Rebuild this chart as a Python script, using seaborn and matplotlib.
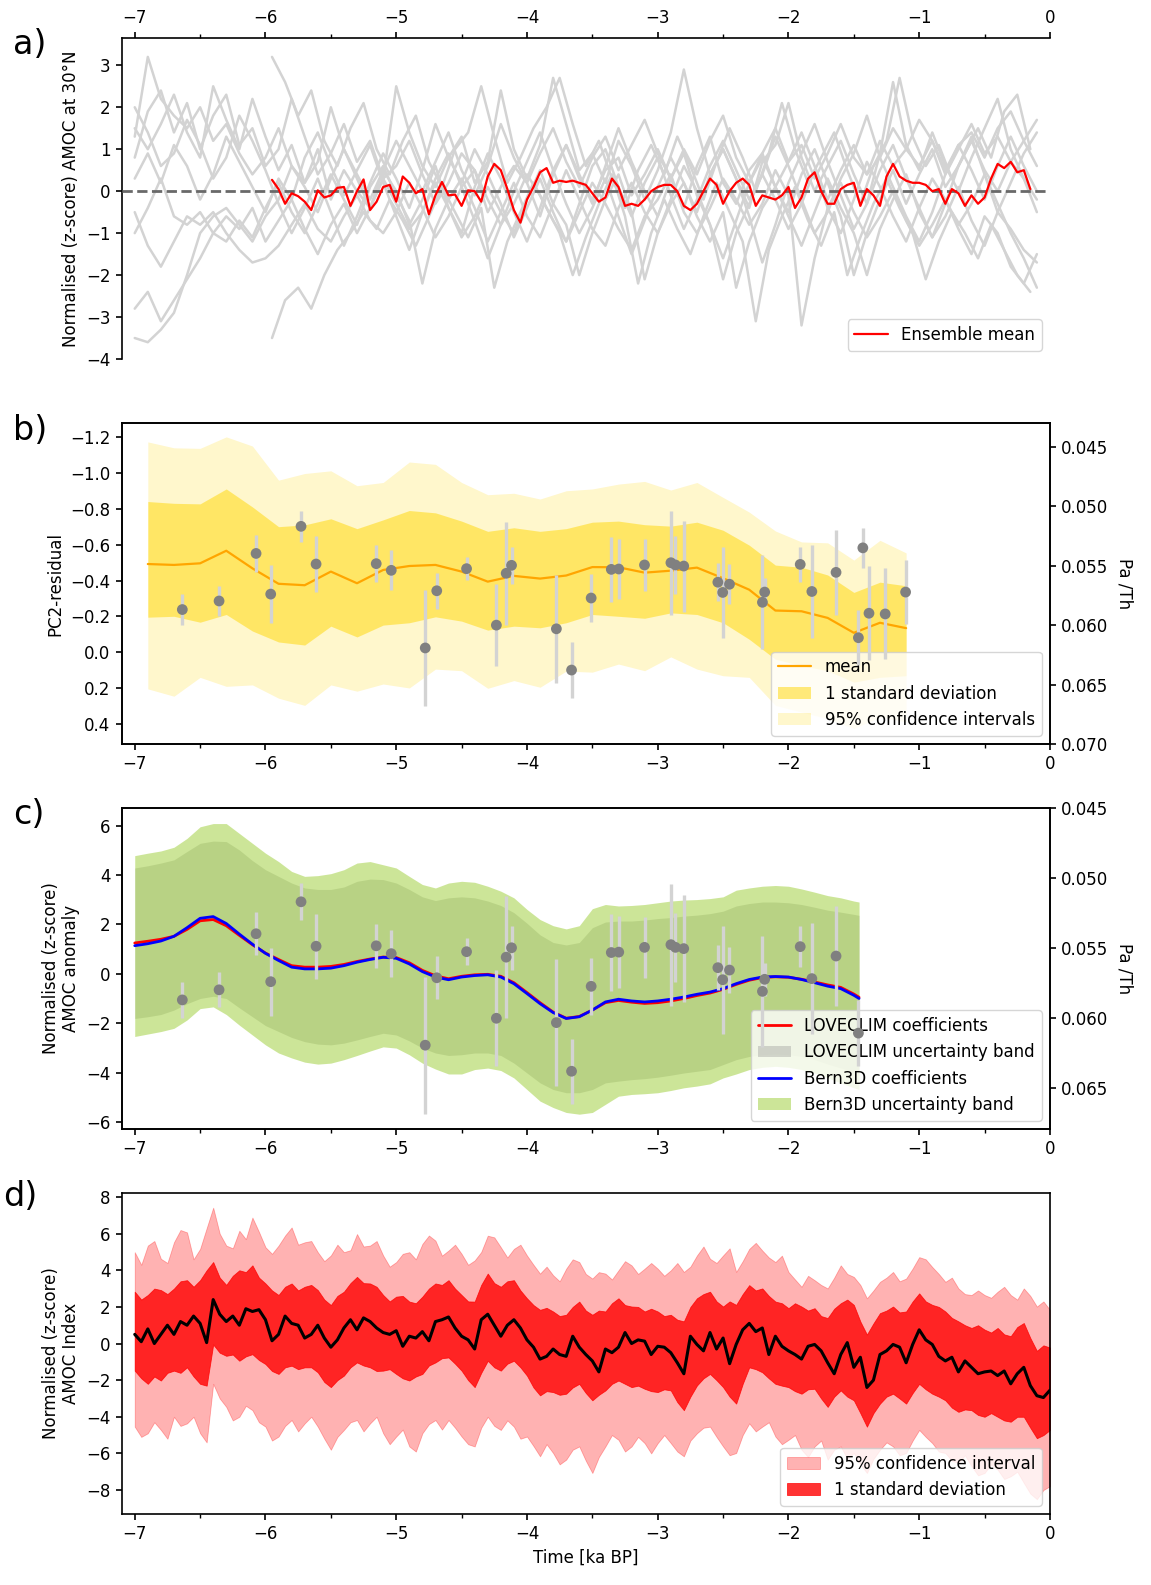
"""
plot.py
Four-panel AMOC reconstruction figure: a) model ensemble, b) PC2-residual with Pa/Th,
c) AMOC anomaly from LOVECLIM/Bern3D coefficients, d) AMOC index with uncertainty.
"""

import numpy as np
import pandas as pd
import matplotlib
matplotlib.use("Agg")
import matplotlib.pyplot as plt
from matplotlib.ticker import MultipleLocator
from matplotlib.lines import Line2D
from matplotlib.patches import Patch
import seaborn as sns

# ---------------- panel a: ensemble members (0.1 ka steps) ----------------
ENS_FULL = [  # -7.0 ... -0.1
    [1.3, 3.2, 2.2, 1.8, 1.5, 2.0, 1.2, 1.6, 0.9, 0.4,
     0.8, 1.5, 0.6, 0.2, 1.0, -0.2, 0.5, 0.0, -0.4, 0.3,
     0.6, 1.2, 0.4, -0.3, 0.2, 0.9, 0.5, -0.5, 0.1, 0.6,
     0.2, -0.6, 0.4, 1.1, 0.3, -0.2, 0.5, 0.8, -0.1, 0.4,
     1.0, 0.3, -0.4, 0.6, 1.3, 0.2, -0.3, 0.5, 0.9, 0.1,
     0.7, 1.4, 0.6, -0.2, 0.5, 1.1, 0.4, 0.8, 1.5, 1.0,
     0.6, 1.2, 0.4, 1.0, 1.6, 0.9, 1.3, 0.7, 1.2, 1.7],
    [0.8, 1.9, 2.4, 1.4, 2.1, 1.0, 1.8, 2.3, 1.1, 1.5,
     0.6, 1.0, 2.2, 1.3, 0.4, 0.9, 1.6, 0.7, 1.2, 0.3,
     2.5, 1.4, 0.6, 0.1, 0.8, 1.3, 0.2, 0.7, 2.4, 1.0,
     0.3, 1.1, 2.7, 1.6, 0.5, 0.9, 0.2, 1.2, 0.6, -0.2,
     0.5, 1.4, 2.9, 1.5, 0.4, 1.0, 0.3, -0.4, 0.7, 1.1,
     2.1, 0.8, 0.0, 0.6, 1.2, 0.4, -0.3, 0.9, 2.6, 1.1,
     0.5, 1.4, 0.6, 0.0, 0.8, 1.5, 2.2, 1.0, 0.3, -0.5],
    [-0.5, -1.3, -1.8, -1.2, -0.6, -0.8, -0.5, -1.0, -1.4, -1.7,
     -1.6, -1.3, -0.8, -0.3, -0.9, -1.2, -0.6, -0.1, -0.7, -1.0,
     -0.5, 0.2, -0.4, -1.1, -0.6, 0.1, 0.5, -0.2, -0.8, -0.3,
     0.4, -0.1, -0.7, -1.2, -0.5, 0.2, -0.3, -0.9, -1.4, -0.6,
     -0.2, 0.4, -0.5, -1.0, -0.4, 0.3, -0.2, -0.8, -0.3, 0.5,
     -0.1, -3.2, -1.6, -0.4, 0.2, -0.5, -1.1, -0.6, 0.0, -0.7,
     -1.3, -0.8, -0.2, -0.9, -1.5, -0.6, -1.0, -1.8, -2.2, -1.5],
    [-1.0, -0.4, 0.3, -0.6, -0.8, -0.5, -1.0, -1.2, -0.7, -1.1,
     -0.4, 0.2, -0.5, -1.0, -0.3, 0.4, -0.2, -0.8, 0.1, 0.6,
     -0.1, -0.7, -2.2, -0.9, -0.2, 0.3, -0.4, -1.2, -0.5, 0.2,
     -0.6, -1.1, -0.3, 0.5, -0.2, -0.9, -1.3, -0.4, 0.2, -0.5,
     -1.0, -0.2, 0.6, 0.0, -0.8, -2.1, -1.0, -0.3, 0.4, -0.2,
     -0.9, -0.3, 0.5, -0.4, -1.0, -0.2, 0.7, 0.1, -0.6, -1.2,
     -0.4, 0.3, -0.2, -0.8, -0.3, 0.4, -0.3, -1.0, -1.6, -2.3],
    [-2.8, -2.4, -3.1, -2.6, -2.1, -1.6, -1.0, -0.6, -0.9, -0.4,
     -1.2, -0.7, -0.2, -0.9, -1.5, -0.8, -0.3, -1.0, -0.4, 0.3,
     -0.3, -0.9, -0.5, 0.2, -0.4, -1.1, -0.6, 0.1, -0.5, -1.0,
     -0.2, 0.5, -0.3, -0.8, -2.0, -1.0, -0.2, 0.4, -0.5, -2.1,
     -1.0, -0.3, 0.2, -0.6, -1.2, -0.5, -2.3, -1.2, -0.4, 0.1,
     -0.6, -1.3, -0.5, 0.3, -0.4, -1.0, -2.0, -0.9, -0.2, 0.4,
     -0.5, -1.1, -0.6, 0.1, -0.7, -1.3, -0.5, -0.9, -1.4, -1.7],
    [-3.5, -3.6, -3.3, -2.9, -2.0, -1.0, -0.6, -0.4, -0.8, -1.2,
     -0.6, -0.2, 0.6, 0.1, -0.5, 0.3, 1.0, 0.4, -0.2, 0.5,
     1.2, 0.6, 0.0, 0.7, 1.4, 0.5, -0.1, 0.6, 1.6, 0.8,
     0.2, 0.9, 1.5, 0.7, 0.1, 0.8, 1.3, 0.5, 1.1, 1.7,
     0.9, 0.3, 1.0, 0.4, 1.2, 1.8, 0.8, 0.2, 0.9, 1.5,
     0.7, 1.1, 0.3, 0.9, 1.6, 0.8, 0.4, 1.2, 0.6, 1.0,
     1.7, 1.2, 0.5, 1.1, 1.4, 0.8, 1.5, 1.9, 1.2, 0.6],
    [1.5, 1.0, 1.6, 2.3, 1.4, 0.8, 2.5, 1.7, 1.0, 2.2,
     1.3, 0.5, 1.1, 0.2, 0.7, 2.0, 1.0, 0.3, -0.4, 0.5,
     0.0, -0.8, -0.2, 0.6, -0.4, -1.0, 0.1, 0.9, 0.3, -0.5,
     -1.2, -0.4, 0.5, 1.1, 0.4, -0.3, 0.6, 1.5, 0.7, 0.0,
     -0.6, 0.3, 0.9, -0.1, -0.8, -1.6, -0.7, 0.2, 0.8, 0.1,
     -0.5, 0.4, 1.0, 0.2, -0.6, -2.0, -1.0, -0.2, 0.5, -0.3,
     0.4, 1.0, 0.1, 0.6, 1.2, 0.5, 0.0, 0.7, 0.3, -0.2],
    [0.3, 0.9, 0.2, 1.1, 0.6, -0.2, 0.4, 1.3, 0.7, 0.1,
     -0.5, 0.3, -0.2, 0.8, 1.4, 0.6, -0.1, 0.5, 1.1, 0.2,
     -0.6, -1.4, -0.5, 0.3, 0.9, 0.1, -0.7, -1.6, -0.8, 0.0,
     0.7, 1.4, 0.5, -0.3, -1.0, -0.4, 0.3, -0.6, -1.5, -0.7,
     0.1, 0.8, 0.2, -0.5, 0.4, 1.0, 0.3, -0.6, -1.7, -0.8,
     0.2, 0.9, 1.6, 0.7, -0.1, -0.9, -0.3, 0.5, 1.1, 0.3,
     -0.4, -1.1, -0.3, 0.6, 1.3, 0.4, -0.5, 0.2, 0.9, 1.4],
    [2.0, 1.4, 0.6, 0.9, 1.7, 1.1, 0.3, 0.8, 1.8, 1.2,
     0.5, -0.3, -1.0, -0.4, 0.3, -0.5, -1.3, -0.6, 0.2, 0.9,
     0.3, -0.4, 0.5, 1.6, 0.8, 0.2, 1.0, 0.4, -0.3, -1.1,
     -0.4, 0.3, -0.5, -1.2, -0.3, 0.6, 1.0, 0.1, -0.6, 0.2,
     0.8, -0.1, -0.9, -0.2, 0.6, 1.2, 0.5, -0.2, 0.4, 1.3,
     0.6, -0.2, -1.0, -0.5, 0.3, 0.9, 1.8, 0.8, 0.1, -0.6,
     -1.2, -0.5, 0.4, 1.1, 0.5, -0.2, 0.6, 1.3, 0.6, 0.0],
]
ENS_LATE = [  # -5.95 ... -0.15
    [3.2, 2.6, 1.8, 2.4, 1.2, 0.6, 1.5, 2.1, 1.0, 0.4,
     1.2, 1.8, 0.7, 0.1, 1.0, 1.4, 2.5, 1.3, 0.2, 0.8,
     1.5, 2.0, 2.7, 1.6, 0.6, 1.2, 0.3, -0.4, 0.5, 1.1,
     0.4, 1.3, 0.6, -0.2, 0.7, 1.5, 0.8, 0.0, 0.9, 2.1,
     1.0, 0.2, 0.8, 1.4, 0.5, -0.3, 0.6, 1.2, 2.7, 1.3,
     0.6, 1.1, 0.3, 0.9, 1.5, 0.8, 1.9, 2.3, 1.0],
    [-3.5, -2.6, -2.3, -2.8, -2.0, -1.4, -1.0, -0.5, -0.9, -0.2,
     -0.7, -1.3, -0.6, 0.1, -0.5, -1.1, -0.4, -2.3, -1.2, -0.5,
     0.2, -0.4, -1.0, -2.0, -1.1, -0.3, 0.4, -0.6, -2.2, -1.0,
     -0.2, -0.9, -1.5, -0.6, 0.2, -0.5, -1.2, -3.1, -1.4, -0.6,
     0.1, -0.7, -1.3, -0.5, -2.0, -1.1, -0.3, 0.3, -0.4, -1.0,
     -2.1, -1.2, -0.5, -1.0, -1.6, -0.8, -1.4, -2.0, -2.4],
]
# ensemble mean, 0.05 ka steps from -5.95 to -0.15
ENS_MEAN = [
    0.27, 0.05, -0.30, -0.05, -0.12, -0.25, -0.45, 0.02, -0.15, -0.10,
    0.08, 0.10, -0.35, 0.00, 0.28, -0.45, -0.25, 0.10, 0.15, -0.25,
    0.35, 0.20, -0.05, 0.05, -0.55, -0.10, 0.22, -0.10, -0.08, -0.35,
    0.02, 0.00, -0.25, 0.35, 0.65, 0.50, 0.05, -0.45, -0.75, -0.20,
    0.10, 0.45, 0.55, 0.20, 0.25, 0.22, 0.25, 0.20, 0.15, -0.05,
    -0.25, -0.15, 0.30, 0.10, -0.35, -0.30, -0.35, -0.20, 0.00, 0.10,
    0.15, 0.15, 0.00, -0.35, -0.45, -0.30, 0.00, 0.30, 0.15, -0.30,
    0.00, 0.20, 0.30, 0.15, -0.35, -0.10, -0.15, -0.20, -0.10, 0.10,
    -0.40, -0.15, 0.30, 0.45, 0.00, -0.30, -0.30, 0.05, 0.15, 0.20,
    -0.35, 0.05, -0.10, -0.35, 0.35, 0.65, 0.35, 0.25, 0.20, 0.20,
    0.15, 0.00, 0.05, -0.30, 0.05, -0.05, -0.35, -0.10, -0.30, -0.15,
    0.30, 0.65, 0.55, 0.70, 0.45, 0.50, 0.05,
]

# ---------------- panel b: PC2-residual (0.2 ka steps, -6.9 ... -1.1) ----------------
B_MEAN = [-0.492, -0.487, -0.496, -0.566, -0.468, -0.382, -0.374, -0.45, -0.385, -0.459,
          -0.481, -0.487, -0.45, -0.394, -0.426, -0.411, -0.428, -0.475, -0.474, -0.444,
          -0.455, -0.472, -0.413, -0.349, -0.233, -0.229, -0.192, -0.109, -0.165, -0.135]
B_SD_UP = [-0.84, -0.83, -0.827, -0.91, -0.81, -0.70, -0.71, -0.744, -0.689, -0.738,
           -0.79, -0.777, -0.731, -0.674, -0.694, -0.674, -0.689, -0.725, -0.731, -0.711,
           -0.703, -0.725, -0.68, -0.597, -0.486, -0.474, -0.431, -0.334, -0.391, -0.371]
B_SD_LO = [-0.196, -0.201, -0.168, -0.211, -0.119, -0.058, -0.041, -0.146, -0.086, -0.152,
           -0.165, -0.198, -0.174, -0.124, -0.146, -0.137, -0.165, -0.211, -0.201, -0.19,
           -0.22, -0.211, -0.165, -0.073, 0.038, 0.074, 0.102, 0.166, 0.139, 0.13]
B_CI_UP = [-1.172, -1.139, -1.136, -1.2, -1.149, -0.959, -0.996, -1.011, -0.928, -0.946,
           -1.06, -1.047, -0.946, -0.878, -0.886, -0.854, -0.9, -0.91, -0.937, -0.952,
           -0.904, -0.946, -0.863, -0.781, -0.676, -0.615, -0.61, -0.514, -0.624, -0.554]
B_CI_LO = [0.203, 0.244, 0.139, 0.189, 0.181, 0.255, 0.295, 0.181, 0.216, 0.176,
           0.198, 0.093, 0.102, 0.2, 0.157, 0.194, 0.104, 0.11, 0.065, 0.102,
           0.025, 0.093, 0.13, 0.139, 0.295, 0.332, 0.369, 0.424, 0.36, 0.387]

# Pa/Th measurements (age, value, 1-sigma)
PT_AGE = [-6.636, -6.355, -6.072, -5.96, -5.728, -5.613, -5.153, -5.038, -4.778, -4.69,
          -4.462, -4.234, -4.159, -4.118, -3.775, -3.659, -3.509, -3.355, -3.298, -3.101,
          -2.899, -2.864, -2.801, -2.54, -2.503, -2.451, -2.199, -2.182, -1.91, -1.821,
          -1.636, -1.431, -1.465, -1.384, -1.26, -1.104]
PT_VAL = [0.05869, 0.05797, 0.05397, 0.05739, 0.05169, 0.05486, 0.05483, 0.05539, 0.06192, 0.05711,
          0.05525, 0.06000, 0.05564, 0.05497, 0.06031, 0.06378, 0.05772, 0.05531, 0.05528, 0.05494,
          0.05475, 0.05494, 0.05503, 0.05639, 0.05725, 0.05656, 0.05808, 0.05722, 0.05489, 0.05717,
          0.05556, 0.05350, 0.06106, 0.05900, 0.05906, 0.05722]
PT_ERR = [0.00128, 0.00125, 0.00153, 0.00243, 0.00131, 0.00233, 0.00158, 0.00167, 0.00489, 0.00153,
          0.00097, 0.00344, 0.00433, 0.00158, 0.00453, 0.00233, 0.00203, 0.00275, 0.00255, 0.00217,
          0.00436, 0.00245, 0.00383, 0.00161, 0.00386, 0.00167, 0.00397, 0.00119, 0.00147, 0.00394,
          0.00358, 0.00167, 0.00233, 0.00397, 0.00383, 0.00272]

# ---------------- panel c: AMOC anomaly (0.1 ka steps -7.0 ... -1.5, then -1.46) ----------------
C_LOVECLIM = [1.25, 1.32, 1.4, 1.52, 1.8, 2.15, 2.2, 1.95, 1.56, 1.18,
              0.84, 0.58, 0.33, 0.27, 0.27, 0.3, 0.38, 0.5, 0.6, 0.68,
              0.66, 0.45, 0.14, -0.08, -0.2, -0.1, -0.04, -0.02, -0.1, -0.36,
              -0.76, -1.17, -1.55, -1.8, -1.73, -1.47, -1.17, -1.08, -1.15, -1.2,
              -1.17, -1.1, -1.0, -0.88, -0.78, -0.63, -0.43, -0.26, -0.15, -0.12,
              -0.14, -0.22, -0.33, -0.45, -0.55, -0.82, -0.95]
C_BERN3D = [1.14, 1.22, 1.33, 1.52, 1.87, 2.25, 2.32, 2.04, 1.61, 1.2,
            0.83, 0.54, 0.27, 0.2, 0.2, 0.23, 0.33, 0.47, 0.58, 0.67,
            0.63, 0.4, 0.09, -0.13, -0.24, -0.13, -0.07, -0.04, -0.13, -0.4,
            -0.8, -1.21, -1.57, -1.81, -1.74, -1.47, -1.14, -1.03, -1.1, -1.14,
            -1.1, -1.03, -0.94, -0.83, -0.74, -0.6, -0.4, -0.23, -0.13, -0.11,
            -0.13, -0.23, -0.36, -0.5, -0.6, -0.87, -1.0]
C_B3D_UP = [4.79, 4.89, 4.98, 5.13, 5.49, 5.96, 6.09, 6.09, 5.69, 5.29,
            4.89, 4.55, 4.15, 3.95, 3.98, 4.06, 4.22, 4.49, 4.55, 4.42,
            4.29, 3.95, 3.62, 3.48, 3.68, 3.75, 3.71, 3.55, 3.35, 3.08,
            2.61, 2.2, 1.95, 1.82, 1.95, 2.64, 2.81, 2.75, 2.77, 2.81,
            2.88, 2.95, 2.99, 3.01, 3.05, 3.12, 3.39, 3.48, 3.55, 3.58,
            3.55, 3.44, 3.31, 3.17, 3.08, 2.95, 2.91]
C_B3D_LO = [-2.54, -2.44, -2.34, -2.21, -1.87, -1.41, -1.34, -1.65, -2.08, -2.48,
            -2.88, -3.21, -3.41, -3.58, -3.66, -3.62, -3.48, -3.31, -3.13, -2.96,
            -3.01, -3.28, -3.62, -3.86, -4.06, -4.06, -3.88, -3.82, -3.92, -4.22,
            -4.69, -5.16, -5.42, -5.62, -5.69, -5.62, -5.29, -4.96, -4.89, -4.86,
            -4.82, -4.73, -4.62, -4.55, -4.46, -4.22, -4.06, -3.88, -3.79, -3.75,
            -3.79, -3.88, -4.02, -4.22, -4.42, -4.62, -4.69]
C_LOV_UP = [4.29, 4.38, 4.49, 4.62, 4.96, 5.29, 5.38, 5.36, 5.02, 4.59,
            4.22, 3.95, 3.68, 3.48, 3.42, 3.42, 3.52, 3.75, 3.84, 3.82,
            3.68, 3.42, 3.12, 2.97, 3.08, 3.12, 3.08, 2.95, 2.77, 2.48,
            2.05, 1.58, 1.27, 1.17, 1.27, 1.87, 2.1, 2.14, 2.14, 2.18,
            2.24, 2.28, 2.34, 2.38, 2.44, 2.54, 2.75, 2.85, 2.91, 2.91,
            2.88, 2.81, 2.7, 2.58, 2.5, 2.41, 2.37]
C_LOV_LO = [-1.81, -1.74, -1.65, -1.47, -1.21, -1.0, -0.91, -1.0, -1.38, -1.74,
            -2.1, -2.34, -2.58, -2.75, -2.85, -2.88, -2.81, -2.68, -2.54, -2.41,
            -2.48, -2.72, -3.01, -3.21, -3.31, -3.28, -3.21, -3.21, -3.31, -3.62,
            -4.02, -4.42, -4.69, -4.82, -4.82, -4.69, -4.42, -4.35, -4.29, -4.25,
            -4.19, -4.11, -4.02, -3.95, -3.88, -3.68, -3.48, -3.35, -3.28, -3.25,
            -3.28, -3.35, -3.48, -3.66, -3.82, -3.98, -4.06]

# ---------------- panel d: AMOC index (0.05 ka steps, -7.0 ... 0.0) ----------------
D_INDEX = [
    0.5, 0.1, 0.8, 0.0, 0.5, 1.0, 0.5, 1.2, 1.0, 1.5,
    1.1, 0.05, 2.4, 1.6, 1.2, 1.5, 1.0, 1.9, 1.75, 1.85,
    1.3, 0.15, 0.5, 1.5, 1.1, 1.0, 0.3, 0.5, 1.0, 0.3,
    -0.2, 0.2, 0.85, 1.3, 0.75, 1.4, 1.2, 0.85, 0.6, 0.5,
    0.7, -0.15, 0.4, 0.3, 0.65, 0.15, 1.2, 1.3, 1.45, 0.85,
    0.4, 0.2, -0.3, 1.3, 1.6, 1.0, 0.4, 1.0, 1.3, 0.85,
    0.2, -0.2, -0.85, -0.7, -0.3, -0.6, -0.7, 0.4, -0.2, -0.6,
    -0.95, -1.55, -0.3, -0.5, -0.2, 0.6, 0.0, 0.2, 0.13, -0.6,
    -0.15, -0.2, -0.5, -1.05, -1.65, 0.4, -0.05, -0.4, 0.6, -0.3,
    0.3, -1.1, -0.05, 0.75, 1.1, 0.65, 0.85, -0.6, 0.4, -0.15,
    -0.4, -0.6, -0.85, -0.15, -0.05, -0.4, -1.05, -1.65, -0.6, 0.05,
    -1.3, -0.75, -2.4, -2.0, -0.6, -0.4, -0.05, -0.2, -1.05, -0.05,
    0.75, 0.2, -0.05, -0.7, -0.95, -0.75, -1.55, -0.95, -1.3, -1.65,
    -1.55, -1.5, -1.75, -1.5, -2.2, -1.65, -1.3, -2.3, -2.85, -2.95,
    -2.55,
]
D_SD_UP = [
    2.83, 2.4, 2.65, 3.0, 2.92, 2.7, 3.0, 3.4, 3.46, 3.1, 3.46, 4.0, 4.45, 3.6, 3.2, 3.7, 4.0, 3.9, 4.27, 3.6,
    3.28, 2.9, 2.65, 3.1, 3.28, 2.9, 3.1, 3.2, 2.92, 2.4, 2.1, 2.6, 2.83, 3.3, 3.64, 3.3, 3.28, 3.1, 2.65, 2.3,
    2.56, 2.6, 2.29, 2.2, 2.56, 3.0, 3.28, 3.2, 3.46, 3.0, 2.65, 2.3, 2.29, 3.2, 3.82, 3.3, 3.1, 3.4, 3.46, 2.9,
    2.47, 2.1, 1.84, 1.95, 1.75, 1.5, 1.57, 2.0, 2.29, 1.8, 1.57, 1.8, 1.75, 2.2, 2.47, 2.1, 2.02, 2.0, 1.75, 1.9,
    1.75, 1.5, 1.57, 1.3, 1.21, 2.0, 2.47, 2.7, 2.83, 2.3, 2.02, 2.3, 2.11, 2.7, 3.19, 2.9, 3.01, 2.6, 2.29, 2.2,
    1.93, 2.2, 2.02, 1.8, 1.93, 1.5, 1.39, 1.9, 2.2, 2.4, 2.11, 1.2, 0.49, 1.1, 1.66, 1.8, 2.02, 1.7, 1.75, 2.3,
    2.74, 2.3, 2.11, 2.0, 1.75, 1.4, 1.21, 1.0, 0.85, 1.0, 0.76, 0.6, 0.85, 0.5, 0.4, 0.9, 1.12, 0.3, -0.4, -0.1,
    -0.22,
]
D_SD_LO = [
    -1.48, -1.9, -2.2, -1.8, -2.02, -1.6, -1.48, -1.6, -1.3, -1.8, -2.2, -2.3, -0.05, -0.5, -0.67, -0.6, -0.94, -0.7, -0.58, -0.9,
    -1.12, -1.5, -1.66, -1.3, -1.21, -1.4, -1.3, -1.3, -1.57, -2.1, -2.38, -2.0, -1.75, -1.3, -1.03, -1.2, -1.3, -1.5, -1.48, -1.4,
    -1.66, -1.9, -2.02, -1.8, -1.66, -1.2, -1.03, -0.8, -0.76, -1.1, -1.48, -2.0, -2.38, -1.6, -0.94, -1.3, -1.48, -1.1, -0.94, -1.3,
    -1.75, -2.4, -2.83, -2.6, -2.65, -2.8, -2.74, -2.4, -2.2, -2.7, -3.1, -2.8, -2.56, -2.2, -2.02, -2.2, -2.38, -2.3, -2.47, -2.6,
    -2.65, -2.5, -2.56, -3.2, -3.64, -2.9, -2.29, -1.9, -1.66, -2.0, -2.38, -2.9, -3.28, -2.2, -1.3, -1.4, -1.57, -1.9, -2.2, -2.3,
    -2.38, -2.6, -2.74, -2.5, -2.47, -3.0, -3.46, -2.9, -2.56, -2.9, -3.1, -3.8, -4.54, -3.8, -3.28, -2.9, -2.74, -3.0, -3.28, -2.7,
    -2.2, -2.5, -2.74, -2.9, -3.1, -3.5, -3.73, -3.6, -3.64, -3.9, -4.0, -3.8, -4.0, -4.2, -4.27, -4.0, -4.0, -4.6, -5.17, -5.0,
    -4.72,
]
D_CI_UP = [
    4.99, 4.3, 5.35, 5.6, 4.63, 4.4, 5.53, 6.2, 6.07, 4.6, 5.17, 6.3, 7.42, 6.0, 5.35, 5.2, 6.16, 5.7, 6.88, 6.1,
    5.26, 4.9, 5.35, 5.9, 6.34, 5.4, 5.53, 5.6, 4.99, 4.5, 4.81, 5.4, 4.99, 5.1, 5.98, 5.3, 5.35, 5.6, 4.81, 4.2,
    4.45, 4.9, 4.99, 4.6, 5.44, 5.9, 5.62, 4.8, 5.08, 5.4, 4.9, 4.3, 4.54, 5.0, 5.89, 5.8, 5.26, 4.7, 5.17, 5.4,
    4.81, 4.3, 3.82, 4.2, 3.73, 3.4, 4.09, 4.6, 4.45, 3.8, 3.55, 3.9, 3.82, 3.5, 4.0, 4.5, 4.27, 3.8, 4.09, 4.4,
    4.09, 3.7, 4.0, 4.4, 3.91, 4.2, 4.81, 5.3, 4.63, 4.4, 4.81, 5.2, 3.91, 4.5, 5.17, 5.5, 5.08, 4.7, 4.45, 4.8,
    3.91, 3.5, 3.1, 3.7, 3.46, 3.2, 3.01, 3.6, 4.27, 3.8, 3.64, 3.2, 2.47, 2.9, 3.37, 3.6, 3.91, 3.4, 3.55, 4.1,
    4.72, 4.6, 4.18, 3.8, 3.37, 3.6, 3.01, 2.7, 2.65, 2.9, 2.65, 2.5, 2.83, 3.1, 2.65, 2.4, 3.01, 2.6, 2.02, 2.3,
    1.84,
]
D_CI_LO = [
    -4.54, -5.1, -4.9, -4.3, -4.72, -5.2, -4.0, -4.5, -4.36, -4.0, -4.9, -5.4, -2.2, -3.0, -3.46, -4.2, -4.0, -3.4, -3.64, -4.3,
    -4.54, -5.3, -5.08, -4.5, -4.18, -4.8, -4.36, -4.0, -4.54, -5.2, -5.8, -5.1, -4.72, -4.3, -4.18, -4.8, -4.36, -4.0, -4.9, -5.5,
    -5.08, -4.7, -5.62, -5.9, -4.9, -4.4, -4.18, -4.7, -4.18, -4.6, -5.08, -5.5, -5.62, -4.6, -4.0, -4.5, -4.72, -4.2, -4.54, -5.2,
    -5.08, -5.6, -6.16, -5.5, -5.98, -6.6, -6.34, -5.8, -5.62, -6.4, -7.07, -6.2, -5.62, -5.0, -5.26, -5.9, -5.62, -5.1, -5.44, -6.0,
    -5.44, -5.0, -5.44, -5.9, -6.16, -5.3, -4.9, -4.6, -4.54, -5.1, -5.62, -6.1, -5.98, -5.0, -4.36, -4.8, -4.54, -4.3, -5.08, -5.5,
    -5.26, -5.0, -5.8, -6.2, -5.62, -5.3, -6.34, -5.8, -5.62, -6.3, -5.98, -6.6, -7.07, -6.3, -5.8, -5.4, -5.62, -6.1, -5.98, -5.3,
    -4.72, -5.1, -5.44, -5.9, -5.98, -6.4, -6.52, -6.1, -6.7, -7.2, -7.07, -6.6, -6.89, -7.4, -7.25, -7.0, -7.61, -8.2, -8.5, -8.0,
    -7.79,
]

# ---------------- style ----------------
sns.set_theme(style="ticks")
plt.rcParams.update({
    "font.family": ["DejaVu Sans"],
    "font.size": 12, "axes.labelsize": 12, "xtick.labelsize": 12,
    "ytick.labelsize": 12, "legend.fontsize": 12,
    "axes.edgecolor": "black", "axes.labelcolor": "black", "text.color": "black",
    "xtick.color": "black", "ytick.color": "black",
    "axes.linewidth": 1.2, "xtick.major.width": 1.2, "ytick.major.width": 1.2,
    "xtick.minor.width": 1.0, "xtick.major.size": 4.5, "ytick.major.size": 4.5,
    "xtick.minor.size": 3.0,
})

fig = plt.figure(figsize=(11.51, 15.85), dpi=100)
L, W, H = 0.1057, 0.8065, 0.2025
ax_a = fig.add_axes([L, 0.7735, W, H])
ax_b = fig.add_axes([L, 0.5306, W, H])
ax_c = fig.add_axes([L, 0.2877, W, H])
ax_d = fig.add_axes([L, 0.0448, W, H])


def time_axis(ax):
    ax.set_xlim(-7.1, 0)
    ax.xaxis.set_major_locator(MultipleLocator(1))
    ax.xaxis.set_minor_locator(MultipleLocator(0.5))


def add_pa_th(ax, ylim, mask=None):
    tw = ax.twinx()
    x, y, e = np.array(PT_AGE), np.array(PT_VAL), np.array(PT_ERR)
    if mask is not None:
        keep = x < mask
        x, y, e = x[keep], y[keep], e[keep]
    tw.errorbar(x, y, yerr=e, fmt="none", ecolor="lightgray", elinewidth=2.4, zorder=2)
    sns.scatterplot(x=x, y=y, color="gray", s=60, edgecolor="none", ax=tw, zorder=3)
    tw.set_ylim(*ylim)
    tw.yaxis.set_major_locator(MultipleLocator(0.005))
    tw.set_ylabel("Pa /Th", rotation=270, labelpad=18)
    return tw


# ---- a) ----
t_full = np.linspace(-7.0, -0.1, len(ENS_FULL[0]))
t_late = np.linspace(-5.95, -0.15, len(ENS_LATE[0]))
frames = [pd.DataFrame({"t": t_full, "v": m, "member": i}) for i, m in enumerate(ENS_FULL)]
frames += [pd.DataFrame({"t": t_late, "v": m, "member": 20 + i}) for i, m in enumerate(ENS_LATE)]
df_ens = pd.concat(frames, ignore_index=True)
sns.lineplot(data=df_ens, x="t", y="v", units="member", estimator=None,
             color="lightgray", lw=1.8, ax=ax_a, legend=False)
ax_a.axhline(0, ls="--", color="dimgray", lw=2, zorder=3)
sns.lineplot(x=np.linspace(-5.95, -0.15, len(ENS_MEAN)), y=ENS_MEAN, color="red",
             lw=1.6, ax=ax_a, label="Ensemble mean", zorder=4)
time_axis(ax_a)
ax_a.set_ylim(-4.0, 3.65)
ax_a.yaxis.set_major_locator(MultipleLocator(1))
ax_a.xaxis.tick_top()
ax_a.spines[["bottom", "right"]].set_visible(False)
ax_a.set_xlabel("")
ax_a.set_ylabel("Normalised (z-score) AMOC at 30°N")
ax_a.legend(loc="lower right")

# ---- b) ----
t_b = np.linspace(-6.9, -1.1, len(B_MEAN))
ax_b.fill_between(t_b, B_CI_LO, B_CI_UP, color="gold", alpha=0.2, lw=0)
ax_b.fill_between(t_b, B_SD_LO, B_SD_UP, color="gold", alpha=0.5, lw=0)
sns.lineplot(x=t_b, y=B_MEAN, color="orange", lw=1.6, ax=ax_b)
time_axis(ax_b)
ax_b.set_ylim(0.51, -1.277)
ax_b.yaxis.set_major_locator(MultipleLocator(0.2))
ax_b.set_ylabel("PC2-residual")
ax_b.legend(handles=[Line2D([], [], color="orange", lw=1.6, label="mean"),
                     Patch(color="gold", alpha=0.5, lw=0, label="1 standard deviation"),
                     Patch(color="gold", alpha=0.2, lw=0, label="95% confidence intervals")],
            loc="lower right")
add_pa_th(ax_b, (0.070, 0.043))

# ---- c) ----
t_c = np.append(np.linspace(-7.0, -1.5, len(C_BERN3D) - 1), -1.46)
ax_c.fill_between(t_c, C_LOV_LO, C_LOV_UP, color="gray", alpha=0.3, lw=0)
ax_c.fill_between(t_c, C_B3D_LO, C_B3D_UP, color="yellowgreen", alpha=0.5, lw=0)
sns.lineplot(x=t_c, y=C_LOVECLIM, color="red", lw=2, ax=ax_c)
sns.lineplot(x=t_c, y=C_BERN3D, color="blue", lw=2, ax=ax_c)
time_axis(ax_c)
ax_c.set_ylim(-6.29, 6.72)
ax_c.yaxis.set_major_locator(MultipleLocator(2))
ax_c.set_ylabel("Normalised (z-score)\nAMOC anomaly")
ax_c.legend(handles=[Line2D([], [], color="red", lw=2, label="LOVECLIM coefficients"),
                     Patch(color="gray", alpha=0.3, lw=0, label="LOVECLIM uncertainty band"),
                     Line2D([], [], color="blue", lw=2, label="Bern3D coefficients"),
                     Patch(color="yellowgreen", alpha=0.5, lw=0, label="Bern3D uncertainty band")],
            loc="lower right")
add_pa_th(ax_c, (0.0679, 0.045), mask=-1.45)

# ---- d) ----
t_d = np.linspace(-7.0, 0.0, len(D_INDEX))
ax_d.fill_between(t_d, D_CI_LO, D_CI_UP, color="red", alpha=0.3, lw=0.6,
                  label="95% confidence interval")
ax_d.fill_between(t_d, D_SD_LO, D_SD_UP, color="red", alpha=0.8, lw=0.6,
                  label="1 standard deviation")
sns.lineplot(x=t_d, y=D_INDEX, color="black", lw=2.2, ax=ax_d)
time_axis(ax_d)
ax_d.set_ylim(-9.31, 8.22)
ax_d.yaxis.set_major_locator(MultipleLocator(2))
ax_d.set_xlabel("Time [ka BP]")
ax_d.set_ylabel("Normalised (z-score)\nAMOC Index")
ax_d.legend(loc="lower right")

# panel letters
for lab, x, ypx in [("a)", 0.011, 45), ("b)", 0.011, 430), ("c)", 0.011, 815), ("d)", 0.003, 1197)]:
    fig.text(x, 1 - ypx / 1585, lab, fontsize=24, va="center", ha="left")

fig.savefig("out.png", dpi=100)
